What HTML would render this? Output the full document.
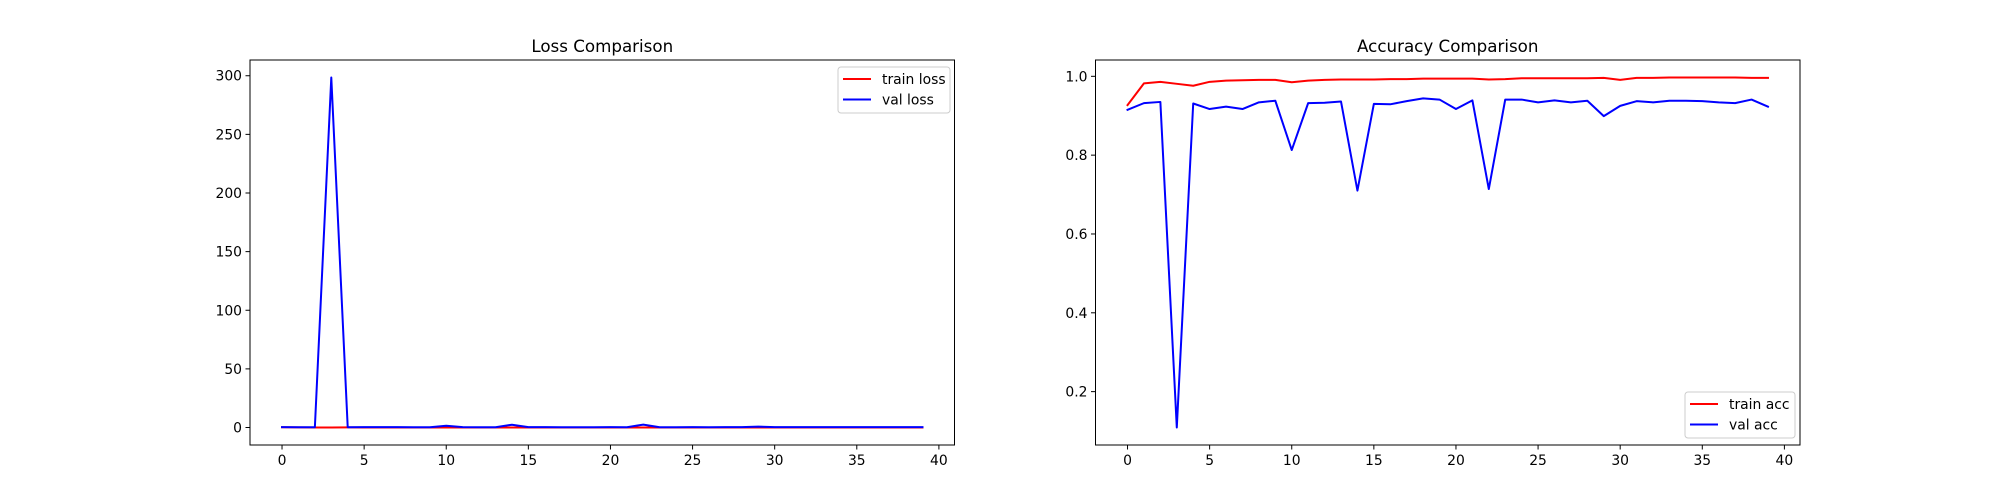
<!DOCTYPE html>
<html><head><meta charset="utf-8"><style>
html,body{margin:0;padding:0;background:#fff}
svg{display:block;font-family:"DejaVu Sans","Liberation Sans",sans-serif}
</style></head><body>
<svg id="fig" width="2000" height="500" viewBox="0 0 2000 500" xmlns="http://www.w3.org/2000/svg">
<rect width="2000" height="500" fill="#fff"/>
</svg>
<script>
const epochs = Array.from({length:40},(_,i)=>i);
const trainLoss = [0.25,0.08,0.05,0.06,0.07,0.05,0.04,0.04,0.03,0.03,0.05,0.04,0.03,0.03,0.03,0.03,0.02,0.02,0.02,0.02,0.02,0.02,0.03,0.02,0.02,0.02,0.02,0.02,0.02,0.02,0.03,0.02,0.02,0.02,0.02,0.01,0.01,0.01,0.01,0.01];
const valLoss = [0.3,0.25,0.22,298.5,0.25,0.3,0.28,0.3,0.22,0.2,1.5,0.3,0.25,0.25,2.4,0.3,0.3,0.25,0.25,0.25,0.35,0.25,2.5,0.25,0.25,0.28,0.25,0.3,0.28,0.8,0.3,0.3,0.3,0.28,0.28,0.3,0.3,0.3,0.3,0.35];
const trainAcc = [0.927,0.982,0.986,0.981,0.976,0.986,0.989,0.990,0.991,0.991,0.985,0.989,0.991,0.992,0.992,0.992,0.993,0.993,0.994,0.994,0.994,0.994,0.992,0.993,0.995,0.995,0.995,0.995,0.995,0.996,0.991,0.996,0.996,0.997,0.997,0.997,0.997,0.997,0.996,0.996];
const valAcc = [0.915,0.932,0.935,0.109,0.931,0.917,0.923,0.917,0.934,0.938,0.813,0.932,0.933,0.936,0.710,0.930,0.929,0.937,0.944,0.941,0.917,0.939,0.714,0.941,0.941,0.934,0.939,0.934,0.938,0.899,0.925,0.937,0.934,0.938,0.938,0.937,0.934,0.932,0.941,0.923];
const xTicks = [0,5,10,15,20,25,30,35,40];
const lossTicks = [0,50,100,150,200,250,300];
const accTicks = [0.2,0.4,0.6,0.8,1.0];

const NS="http://www.w3.org/2000/svg";
const svg=document.getElementById('fig');
function mk(tag,attrs,parent){const e=document.createElementNS(NS,tag);for(const k in attrs)e.setAttribute(k,attrs[k]);(parent||svg).appendChild(e);return e;}

function panel(opts){
  const {x0,x1,y0,y1,title,series,yticks,fmt,legend,name}=opts;
  const g=mk('g',{});
  
  
  let ymin=Infinity,ymax=-Infinity;
  series.forEach(s=>s.data.forEach(v=>{ymin=Math.min(ymin,v);ymax=Math.max(ymax,v);}));
  const m=(ymax-ymin)*0.05; ymin-=m; ymax+=m;
  const xmin=-1.95,xmax=40.95;
  const sx=v=>x0+(v-xmin)/(xmax-xmin)*(x1-x0);
  const sy=v=>y1-(v-ymin)/(ymax-ymin)*(y1-y0);
  series.forEach(s=>{
    const p=mk('polyline',{points:s.data.map((v,i)=>sx(epochs[i]).toFixed(2)+','+sy(v).toFixed(2)).join(' '),fill:'none',stroke:s.color,'stroke-width':2,'stroke-linejoin':'round','stroke-linecap':'square'},g);
    
    
  });
  const fr=mk('rect',{x:x0,y:y0,width:x1-x0,height:y1-y0,fill:'none',stroke:'#000','stroke-width':1},g);
  
  
  xTicks.forEach(t=>{
    const X=sx(t);
    mk('line',{x1:X,x2:X,y1:y1,y2:y1+4.5,stroke:'#000','stroke-width':1},g);
    const tx=mk('text',{x:X,y:y1+20,'font-size':13.9,'text-anchor':'middle'},g);
    tx.textContent=t;
    
    
  });
  yticks.forEach(t=>{
    const Y=sy(t);
    mk('line',{x1:x0-4.5,x2:x0,y1:Y,y2:Y,stroke:'#000','stroke-width':1},g);
    const tx=mk('text',{x:x0-8,y:Y+5,'font-size':13.9,'text-anchor':'end'},g);
    tx.textContent=fmt(t);
    
    
  });
  const tt=mk('text',{x:(x0+x1)/2,y:y0-8,'font-size':16.7,'text-anchor':'middle'},g);
  tt.textContent=title;
  
  
  const lg=mk('g',{},g);
  
  
  mk('rect',{x:legend.x,y:legend.y,width:legend.w,height:46,rx:3,fill:'#fff','fill-opacity':0.8,stroke:'#ccc','stroke-width':1},lg);
  series.forEach((s,i)=>{
    const ly=legend.y+12+i*20.5;
    mk('line',{x1:legend.x+5,x2:legend.x+33,y1:ly,y2:ly,stroke:s.color,'stroke-width':2},lg);
    const lt=mk('text',{x:legend.x+44,y:ly+5,'font-size':13.9},lg);
    lt.textContent=s.label;
    
    
  });
}
panel({x0:250,x1:954.5,y0:60,y1:445,title:'Loss Comparison',name:'loss-chart',
  series:[{data:trainLoss,color:'#ff0000',label:'train loss',name:'train-loss-line'},{data:valLoss,color:'#0000ff',label:'val loss',name:'val-loss-line'}],
  yticks:lossTicks,fmt:t=>String(t),legend:{x:838,y:67,w:112}});
panel({x0:1095.5,x1:1800,y0:60,y1:445,title:'Accuracy Comparison',name:'accuracy-chart',
  series:[{data:trainAcc,color:'#ff0000',label:'train acc',name:'train-acc-line'},{data:valAcc,color:'#0000ff',label:'val acc',name:'val-acc-line'}],
  yticks:accTicks,fmt:t=>t.toFixed(1),legend:{x:1685,y:392,w:110}});
</script>
</body></html>
